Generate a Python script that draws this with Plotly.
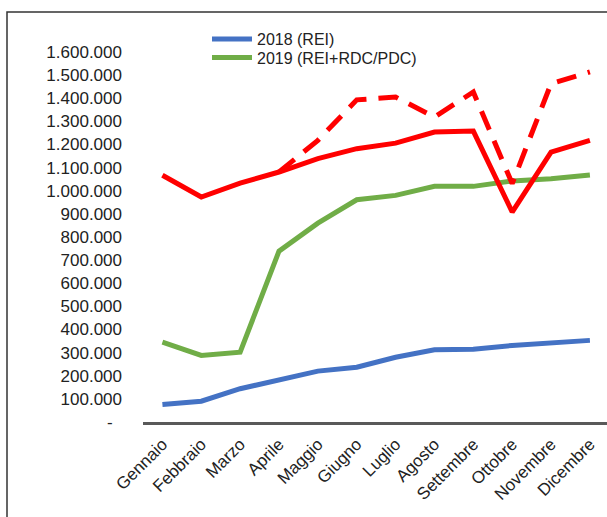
import plotly.graph_objects as go

months = ["Gennaio", "Febbraio", "Marzo", "Aprile", "Maggio", "Giugno",
          "Luglio", "Agosto", "Settembre", "Ottobre", "Novembre", "Dicembre"]

rei_2018 = [76000, 90000, 144000, 180000, 220000, 237000,
            280000, 312000, 315000, 331000, 341000, 353000]
rei_rdc_2019 = [345000, 288000, 302000, 739000, 860000, 961000,
                980000, 1019000, 1019000, 1042000, 1052000, 1068000]
red_solid = [1067000, 973000, 1033000, 1081000, 1139000, 1182000,
             1206000, 1254000, 1258000, 908000, 1167000, 1218000]
red_dashed = [None, None, None, 1081000, 1218000, 1393000,
              1405000, 1319000, 1427000, 1031000, 1463000, 1514000]

y_tickvals = [0, 100000, 200000, 300000, 400000, 500000, 600000, 700000, 800000,
              900000, 1000000, 1100000, 1200000, 1300000, 1400000, 1500000, 1600000]
y_ticktext = ["-\u00a0\u00a0", "100.000", "200.000", "300.000", "400.000", "500.000",
              "600.000", "700.000", "800.000", "900.000", "1.000.000", "1.100.000",
              "1.200.000", "1.300.000", "1.400.000", "1.500.000", "1.600.000"]

W, H = 607, 517
L, R, T, B = 143, 0, 52, 95
pw = W - L - R
ph = H - T - B


def py(px_y):
    return (H - B - px_y) / ph


def px(px_x):
    return (px_x - L) / pw


fig = go.Figure()
fig.add_trace(go.Scatter(x=months, y=rei_2018, mode="lines", name="2018 (REI)",
                         legend="legend",
                         line=dict(color="#4472C4", width=5)))
fig.add_trace(go.Scatter(x=months, y=rei_rdc_2019, mode="lines", name="2019 (REI+RDC/PDC)",
                         legend="legend2",
                         line=dict(color="#70AD47", width=5)))
fig.add_trace(go.Scatter(x=months, y=red_solid, mode="lines", showlegend=False,
                         line=dict(color="#FF0000", width=5)))
fig.add_trace(go.Scatter(x=months, y=red_dashed, mode="lines", showlegend=False,
                         line=dict(color="#FF0000", width=5, dash="20px,12px")))

fig.add_shape(type="rect", xref="paper", yref="paper",
              x0=px(7), x1=1.2, y0=-0.5, y1=py(12),
              line=dict(color="#333333", width=1.5), fillcolor="rgba(0,0,0,0)")

leg_common = dict(xanchor="left", yanchor="middle", font=dict(size=16),
                  bgcolor="rgba(0,0,0,0)", tracegroupgap=0, itemwidth=40)
fig.update_layout(
    width=W, height=H,
    margin=dict(l=L, r=R, t=T, b=B, pad=0, autoexpand=False),
    paper_bgcolor="white", plot_bgcolor="white",
    font=dict(family="Liberation Sans, Arial, sans-serif", color="#222222", size=17),
    legend=dict(x=px(207), y=py(39), **leg_common),
    legend2=dict(x=px(207), y=py(57.5), **leg_common),
    showlegend=True,
)
fig.update_xaxes(range=[-0.5, 11.44], showgrid=False, showline=True,
                 linecolor="#595959", linewidth=2.5, tickangle=-45,
                 ticks="", ticklabelstandoff=3, zeroline=False, automargin=False,
                 tickfont=dict(size=17))
fig.update_yaxes(range=[0, 1600000], showgrid=False, showline=False, zeroline=False,
                 tickvals=y_tickvals, ticktext=y_ticktext, ticks="", automargin=False,
                 ticklabelstandoff=20, tickfont=dict(size=17))

fig.write_html("out.html", config={"displayModeBar": False},
               post_script="document.body.style.margin='0px';document.body.style.overflow='hidden';")
